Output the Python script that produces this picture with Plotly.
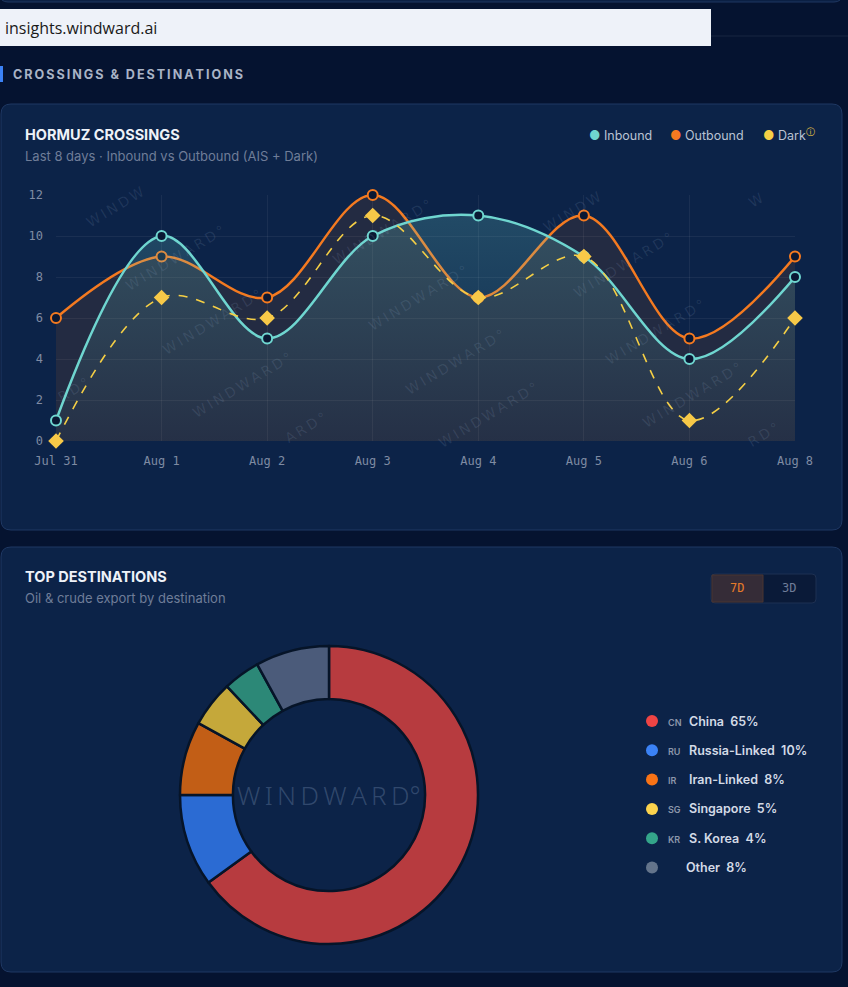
import plotly.graph_objects as go

W, H = 848, 987

# dados do gráfico de linhas
dias = ["Jul 31", "Aug 1", "Aug 2", "Aug 3", "Aug 4", "Aug 5", "Aug 6", "Aug 8"]
inbound = [1, 10, 5, 10, 11, 9, 4, 8]
outbound = [6, 9, 7, 12, 7, 11, 5, 9]
dark = [0, 7, 6, 11, 7, 9, 1, 6]

# dados do donut
destinos = ["China", "Russia-Linked", "Iran-Linked", "Singapore", "S. Korea", "Other"]
codigos = ["CN", "RU", "IR", "SG", "KR", ""]
percentuais = [65, 10, 8, 5, 4, 8]
cores_fatia = ["#b73b3f", "#2b6bd3", "#c25e16", "#c5a83a", "#2c8877", "#4b5b7a"]
cores_legenda = ["#ef4444", "#3b82f6", "#f97316", "#fcd34d", "#34a58a", "#64748b"]


def px_x(x):
    return x / W


def px_y(y):
    return 1 - y / H


def caixa_arredondada(x0, y0, x1, y1, r):
    # retângulo com cantos arredondados, em coordenadas de papel
    X = px_x
    Y = px_y
    return (f"M {X(x0 + r)} {Y(y0)} L {X(x1 - r)} {Y(y0)} Q {X(x1)} {Y(y0)} {X(x1)} {Y(y0 + r)} "
            f"L {X(x1)} {Y(y1 - r)} Q {X(x1)} {Y(y1)} {X(x1 - r)} {Y(y1)} "
            f"L {X(x0 + r)} {Y(y1)} Q {X(x0)} {Y(y1)} {X(x0)} {Y(y1 - r)} "
            f"L {X(x0)} {Y(y0 + r)} Q {X(x0)} {Y(y0)} {X(x0 + r)} {Y(y0)} Z")


fig = go.Figure()

# Outbound
fig.add_trace(go.Scatter(
    x=dias, y=outbound, mode="lines+markers", line=dict(color="#f47a20", width=2.5, shape="spline"),
    fill="tozeroy", fillcolor="rgba(249,115,22,0.10)",
    marker=dict(size=10, color="#0a1833", line=dict(color="#f47a20", width=2)),
    cliponaxis=False, showlegend=False,
))
# Inbound
fig.add_trace(go.Scatter(
    x=dias, y=inbound, mode="lines+markers", line=dict(color="#6fd6d0", width=2.5, shape="spline"),
    fill="tozeroy",
    fillgradient=dict(type="vertical", colorscale=[[0, "rgba(111,214,208,0.03)"], [1, "rgba(111,214,208,0.22)"]]),
    marker=dict(size=10, color="#0a1833", line=dict(color="#6fd6d0", width=2)),
    cliponaxis=False, showlegend=False,
))
# Dark
fig.add_trace(go.Scatter(
    x=dias, y=dark, mode="lines+markers", line=dict(color="#f5cf45", width=1.6, shape="spline", dash="dash"),
    marker=dict(size=12, symbol="diamond", color="#f7c948", line=dict(width=0)),
    cliponaxis=False, showlegend=False,
))

# Donut
fig.add_trace(go.Pie(
    labels=destinos, values=percentuais, hole=0.645, sort=False, direction="clockwise", rotation=0,
    marker=dict(colors=cores_fatia, line=dict(color="#061428", width=2.5)),
    textinfo="none", hoverinfo="label+percent", showlegend=False,
    domain=dict(x=[px_x(180), px_x(478)], y=[px_y(944), px_y(646)]),
))

grade = "rgba(255,255,255,0.06)"
fig.update_layout(
    width=W, height=H, margin=dict(l=0, r=0, t=0, b=0, pad=0, autoexpand=False),
    paper_bgcolor="#051330", plot_bgcolor="rgba(0,0,0,0)",
    font=dict(family="Inter", color="#c9d2e0"),
    xaxis=dict(domain=[px_x(56), px_x(795)], range=[0, 7], type="category", showgrid=True, gridcolor=grade,
               zeroline=False, showline=False, ticks="", ticklabelstandoff=11, automargin=False,
               tickfont=dict(family="DejaVu Sans Mono", size=12, color="#7f8ba3")),
    yaxis=dict(domain=[px_y(441), px_y(195)], range=[0, 12], dtick=2, showgrid=True, gridcolor=grade,
               zeroline=False, showline=False, ticks="", ticklabelstandoff=12, automargin=False,
               tickfont=dict(family="DejaVu Sans Mono", size=12, color="#7f8ba3")),
)

formas = []
# cartão do topo (cortado)
formas.append(dict(type="path", path=caixa_arredondada(0, -30, 842, 2, 8), xref="paper", yref="paper",
                   fillcolor="#0b2044", line=dict(color="#1f3761", width=1), layer="below"))
# linha separadora
formas.append(dict(type="line", x0=px_x(711), x1=1, y0=px_y(36), y1=px_y(36), xref="paper", yref="paper",
                   line=dict(color="rgba(255,255,255,0.08)", width=1), layer="below"))
# barra de url
formas.append(dict(type="rect", x0=0, x1=px_x(711), y0=px_y(46), y1=px_y(9), xref="paper", yref="paper",
                   fillcolor="#eef2f9", line=dict(width=0)))
# barra azul do título da seção
formas.append(dict(type="rect", x0=0, x1=px_x(3), y0=px_y(82), y1=px_y(66), xref="paper", yref="paper",
                   fillcolor="#3b82f6", line=dict(width=0)))
# cartões
for (y0, y1) in [(104, 530), (547, 972)]:
    formas.append(dict(type="path", path=caixa_arredondada(1, y0, 842, y1, 10), xref="paper", yref="paper",
                       fillcolor="#0c2348", line=dict(color="#1f3863", width=1), layer="below"))
# botões 7D / 3D
formas.append(dict(type="path", path=caixa_arredondada(711, 574, 816, 603, 4), xref="paper", yref="paper",
                   fillcolor="#0a1a38", line=dict(color="#1d3052", width=1)))
formas.append(dict(type="rect", x0=px_x(712), x1=px_x(763), y0=px_y(602), y1=px_y(575), xref="paper", yref="paper",
                   fillcolor="#352c37", line=dict(color="#4a3530", width=1)))
# pontos da legenda do donut
for i, cor in enumerate(cores_legenda):
    cy = 721 + i * 29.3
    formas.append(dict(type="circle", xref="paper", yref="paper", x0=px_x(646), x1=px_x(658),
                       y0=px_y(cy + 6), y1=px_y(cy - 6), fillcolor=cor, line=dict(width=0)))
fig.update_layout(shapes=formas)

anots = []


def texto(x, y, t, size=12, color="#c9d2e0", family="Inter", weight=400, xanchor="left", **kw):
    anots.append(dict(x=px_x(x), y=px_y(y), xref="paper", yref="paper", text=t, showarrow=False,
                      xanchor=xanchor, yanchor="middle",
                      font=dict(size=size, color=color, family=family, weight=weight), **kw))


texto(3, 28, "insights.windward.ai", size=16, color="#1a1a1a", family="Open Sans")
texto(11, 74, "\u2009".join("CROSSINGS & DESTINATIONS").replace("&", "&amp;"), size=12.6, color="#a9b3c6",
      weight=700)
texto(23, 134, "HORMUZ CROSSINGS", size=14.5, color="#eef2f8", weight=700)
texto(23, 156, "Last 8 days · Inbound vs Outbound (AIS + Dark)", size=13, color="#6f7d98")
texto(23, 576, "TOP DESTINATIONS", size=14.5, color="#eef2f8", weight=700)
texto(23, 598, "Oil &amp; crude export by destination", size=13, color="#6f7d98")
texto(737, 588, "7D", size=12, color="#e57a2a", family="DejaVu Sans Mono", xanchor="center")
texto(789, 588, "3D", size=12, color="#6f7d98", family="DejaVu Sans Mono", xanchor="center")

# legenda do gráfico de linhas
texto(587, 135, "<span style='color:#6fd6d0'>●</span> Inbound", size=12.5, color="#b9c2d3")
texto(668, 135, "<span style='color:#f47a20'>●</span> Outbound", size=12.5, color="#b9c2d3")
texto(761, 135, "<span style='color:#f5cf45'>●</span> Dark<sup><span style='color:#f5cf45'>ⓘ</span></sup>",
      size=12.5, color="#b9c2d3")

# legenda do donut
for i, (nome, cod, pct) in enumerate(zip(destinos, codigos, percentuais)):
    cy = 721 + i * 29.3
    if cod:
        texto(666, cy + 1, cod, size=9, color="#8c97ab", weight=600)
        texto(687, cy, f"{nome}\u00a0\u00a0{pct}%", size=12.5, color="#d3dae6", weight=600)
    else:
        texto(684, cy, f"{nome}\u00a0\u00a0{pct}%", size=12.5, color="#d3dae6", weight=600)

# marca d'água no centro do donut
texto(329, 795, "W\u2009I\u2009N\u2009D\u2009W\u2009A\u2009R\u2009D\u00b0", size=26, color="rgba(120,145,180,0.35)",
      family="Noto Sans", weight=300, xanchor="center")

# marcas d'água do gráfico de linhas
marcas = [("WINDW", 115, 207), ("WINDWARD°", 175, 258), ("WINDWARD°", 212, 322), ("WINDWARD°", 242, 385),
          ("ARD°", 305, 428), ("RD°", 73, 390), ("WINDWARD°", 382, 232), ("WINDWARD°", 418, 298),
          ("WINDWARD°", 455, 362), ("WINDWARD°", 488, 415), ("WINDW", 572, 212), ("WINDWARD°", 623, 265),
          ("WINDWARD°", 655, 332), ("WINDWARD°", 692, 395), ("RD°", 763, 435), ("W", 756, 200)]
for t, x, y in marcas:
    texto(x, y, "\u2009".join(t), size=14, color="rgba(170,190,220,0.13)", family="DejaVu Sans",
          xanchor="center", textangle=-31)

fig.update_layout(annotations=anots)

fig.write_html("out.html", config={"displayModeBar": False},
               post_script="document.body.style.margin='0';")
